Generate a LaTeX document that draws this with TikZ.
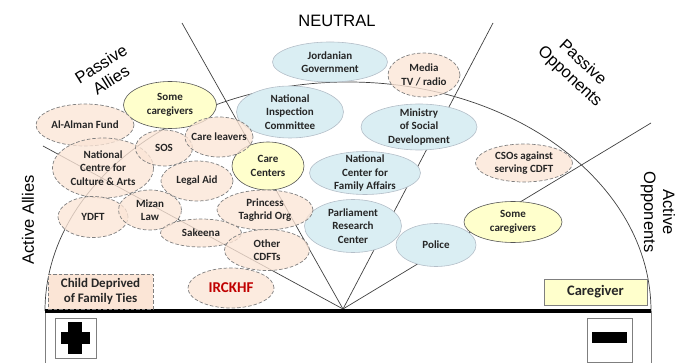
\documentclass[tikz,border=0pt]{standalone}
\usepackage{fontspec}
\setmainfont{Carlito}
\newfontfamily\arialf{Liberation Sans}
\usetikzlibrary{shapes.geometric}
\definecolor{peach}{HTML}{FBE5D6}
\definecolor{peachb}{HTML}{7F7F7F}
\definecolor{yell}{HTML}{FFFFCC}
\definecolor{yellb}{HTML}{555555}
\definecolor{bluef}{HTML}{DAEEF3}
\definecolor{blueb}{HTML}{B4BEC8}
\definecolor{txt}{HTML}{262626}
\definecolor{lnc}{HTML}{404040}
\definecolor{ired}{HTML}{C00000}
\newcommand\bub[6]{\node[#1, minimum width=#4pt, minimum height=#5pt] (#2) at (#3) {};\node[lbl] (#2t) at (#2.center) {#6};}
\begin{document}
\begin{tikzpicture}[x=1pt,y=-1pt,
  ln/.style={draw=lnc, line width=0.7pt},
  ell/.style={ellipse, inner sep=0pt},
  pe/.style={ell, draw=peachb, fill=peach, fill opacity=0.78, dash pattern=on 3.5pt off 2pt, line width=0.7pt},
  ye/.style={ell, draw=yellb, fill=yell, line width=0.6pt},
  bl/.style={ell, draw=blueb, fill=bluef, line width=0.6pt},
  lbl/.style={inner sep=0pt, align=center, text=txt, font=\bfseries\fontsize{11}{13.5}\selectfont},
  side/.style={inner sep=0pt, align=center, text=black, font=\arialf\fontsize{16.5}{19}\selectfont},
  sign/.style={draw=peachb, line width=0.6pt, fill=white}]
\useasboundingbox (0,0) rectangle (688,363);
% frame lines
\coordinate (O) at (343,309);
\coordinate (E1) at (43,146);
\coordinate (E2) at (182,23);
\coordinate (E3) at (493,23);
\coordinate (E4) at (651,123);
\coordinate (BL) at (45,311);
\coordinate (BR) at (651,311);
\draw[ln] (BL) arc[start angle=180, end angle=0, x radius=303pt, y radius=229pt];
\draw[ln] (O) -- (E1);
\draw[ln] (O) -- (E2);
\draw[ln] (O) -- (E3);
\draw[ln] (O) -- (E4);
\draw[draw=peachb, line width=0.7pt] (BL) -- (45,363);
\draw[draw=peachb, line width=0.7pt] (BR) -- (651,363);
\draw[line width=3.5pt, black] (BL) -- (BR);
% signs
\node[sign, minimum width=41pt, minimum height=40pt, inner sep=0] (plusbox) at (75.5,338) {};
\fill[black] (68,322) rectangle (82,354);
\fill[black] (61,332) rectangle (90,344);
\node[sign, minimum width=45pt, minimum height=44pt, inner sep=0] (minusbox) at (609.5,340) {};
\fill[black] (592,332) rectangle (627,343);
% side labels
\node[side] (neutral) at (337,21) {NEUTRAL};
\node[side, rotate=32] (pallies) at (106,72) {Passive\\Allies};
\node[side, rotate=-43] (popp) at (576,70) {Passive\\Opponents};
\node[side, rotate=90] (aallies) at (28,220) {Active Allies};
\node[side, rotate=-90] (aopp) at (658,212) {Active\\Opponents};
% blue
\bub{bl}{jordan}{330,62}{115}{40}{Jordanian\\Government}
\bub{bl}{nic}{290,112}{107}{52}{National\\Inspection\\Committee}
\bub{bl}{mosd}{419,127}{116}{46}{Ministry\\of Social\\Development}
\bub{bl}{ncfa}{365,173}{111}{43}{National\\Center for\\Family Affairs}
\bub{bl}{parl}{353,226}{97}{53}{Parliament\\Research\\Center}
\bub{bl}{police}{436,245}{80}{43}{Police}
% yellow
\bub{ye}{somecl}{170,105}{93}{47}{Some\\caregivers}
\bub{ye}{carec}{268,166}{72}{48}{Care\\Centers}
\bub{ye}{somecr}{513,222}{98}{41}{Some\\caregivers}
% peach
\bub{pe}{alman}{85,125}{98}{42}{Al-Alman Fund}
\bub{pe}{ncca}{103,168}{101}{60}{National\\Centre for\\Culture \& Arts}
\bub{pe}{sos}{164,148}{57}{36}{SOS}
\bub{pe}{carel}{219,137}{68}{40}{Care leavers}
\bub{pe}{legal}{197,181}{72}{40}{Legal Aid}
\bub{pe}{ydft}{93,217}{70}{41}{YDFT}
\bub{pe}{mizan}{150,210}{63}{40}{Mizan\\Law}
\bub{pe}{sakeena}{201,233}{81}{28}{Sakeena}
\bub{pe}{princess}{265,210}{96}{40}{Princess\\Taghrid Org}
\bub{pe}{otherc}{267,250}{85}{41}{Other\\CDFTs}
\bub{pe}{irckhf}{231,288}{86}{40}{\color{ired}\fontsize{15}{18}\selectfont IRCKHF}
\bub{pe}{media}{424,75}{72}{44}{Media\\TV / radio}
\bub{pe}{csos}{524,163}{97}{38}{CSOs against\\serving CDFT}
% legend boxes
\node[draw=peachb, dash pattern=on 3.5pt off 2pt, line width=0.7pt, fill=peach, minimum width=105pt, minimum height=35pt, inner sep=0pt, align=center, text=txt, font=\bfseries\fontsize{13}{15.5}\selectfont] (child) at (100.5,291.5) {Child Deprived\\of Family Ties};
\node[draw=peachb, line width=0.7pt, fill=yell, minimum width=103pt, minimum height=26pt, inner sep=0pt, text=txt, font=\bfseries\fontsize{14.5}{17}\selectfont] (caregiver) at (595.5,292) {Caregiver};
\end{tikzpicture}
\end{document}
